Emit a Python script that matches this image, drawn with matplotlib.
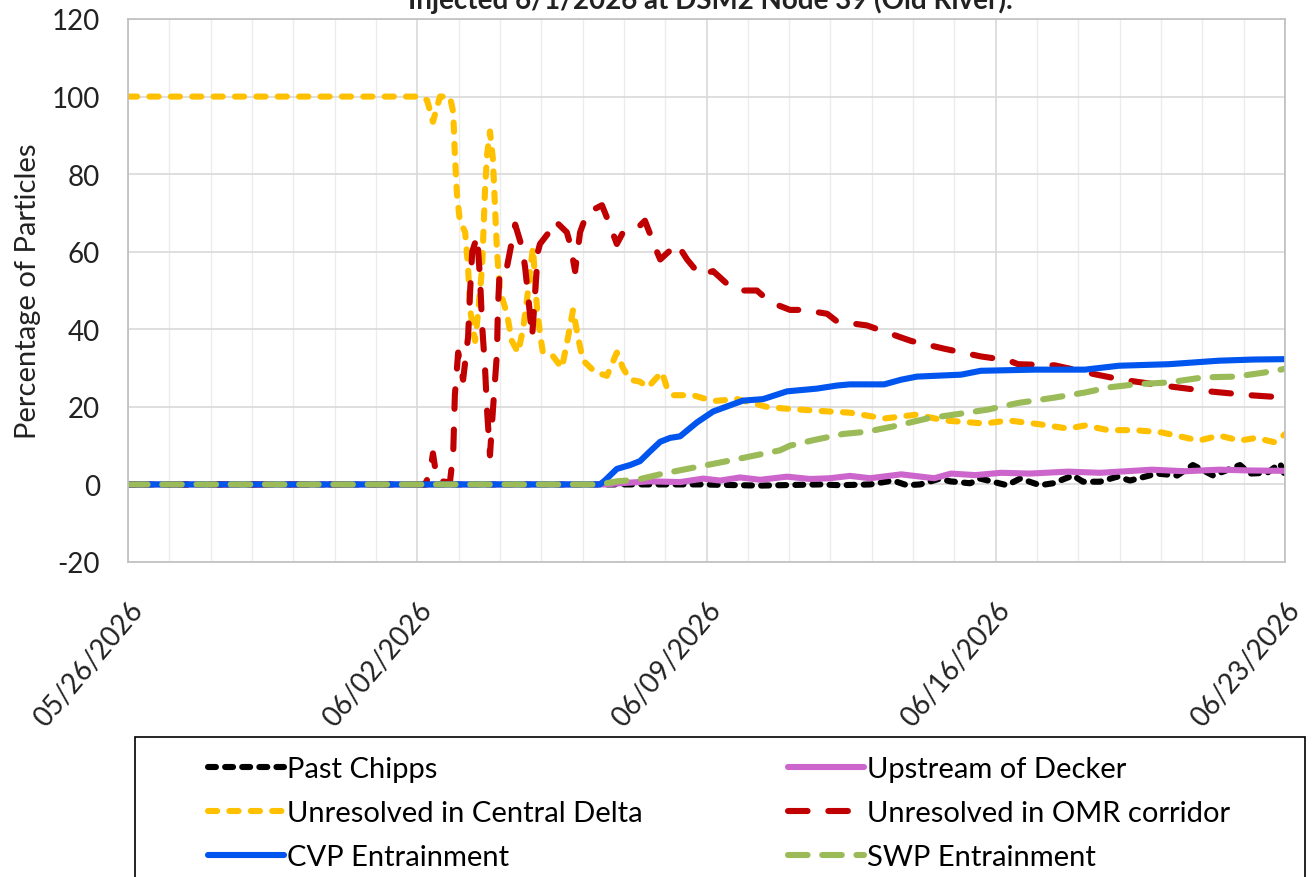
import matplotlib
matplotlib.use("Agg")
import matplotlib.pyplot as plt
import matplotlib.dates as mdates
from matplotlib.patches import Rectangle
from datetime import datetime
import numpy as np

plt.rcParams['font.family'] = ['Lato', 'DejaVu Sans']
plt.rcParams['axes.unicode_minus'] = False

START = datetime(2026, 5, 26)
END = datetime(2026, 6, 23)

# ---- data: (days since 05/26/2026, percentage) ----
chipps_days = [0.00, 11.91, 13.84, 15.30, 16.75, 17.23, 17.96, 18.51, 18.85, 19.17, 19.65, 19.89,
               20.38, 20.62, 21.27, 21.59, 22.07, 22.39, 22.87, 23.11, 23.52, 23.94, 24.25, 24.90,
               25.39, 25.77, 26.26, 26.91, 27.15, 27.57, 27.88, 28.00]
chipps_vals = [0, 0, 0, -0.3, 0, -0.2, 0, 1.0, -0.2, 0, 1.5, 0.8,
               0.3, 1.5, -0.2, 1.5, -0.2, 0.3, 2.3, 0.7, 0.7, 2.0, 1.0, 2.8,
               2.3, 5.0, 2.3, 5.0, 2.8, 3.0, 5.4, 2.3]

decker_days = [0.00, 11.54, 11.91, 12.63, 13.36, 13.92, 14.33, 14.81, 15.30, 15.95, 16.51, 16.99,
               17.47, 17.96, 18.71, 19.51, 19.92, 20.50, 21.13, 21.83, 22.75, 23.52, 24.78, 25.58,
               26.40, 27.15, 28.00]
decker_vals = [0, 0, 0.3, 0.8, 0.6, 1.5, 1.0, 1.8, 1.2, 2.0, 1.4, 1.6,
               2.2, 1.6, 2.6, 1.6, 2.8, 2.4, 3.0, 2.8, 3.3, 3.0, 3.8, 3.4,
               3.8, 3.6, 3.5]

central_days = [0.00, 7.12, 7.24, 7.38, 7.55, 7.79, 7.87, 7.91, 7.96, 8.03, 8.16, 8.23, 8.28, 8.40,
                8.47, 8.57, 8.64, 8.69, 8.76, 8.83, 8.88, 8.93, 9.00, 9.17, 9.29, 9.44, 9.56, 9.66,
                9.73, 9.80, 9.90, 9.97, 10.04, 10.29, 10.50, 10.65, 10.77, 10.89, 11.01, 11.30,
                11.59, 11.83, 11.98, 12.15, 12.39, 12.58, 12.92, 13.04, 13.19, 13.67, 14.16, 14.74,
                15.46, 15.85, 16.67, 17.47, 18.30, 19.09, 19.75, 20.74, 21.30, 22.07, 22.75, 23.16,
                23.72, 24.37, 25.02, 25.92, 26.40, 26.91, 27.30, 27.78, 28.00]
central_vals = [100, 100, 99, 93.5, 100, 100, 96, 85, 75, 68, 65, 56, 45, 37,
                44, 56, 76, 85, 91, 84, 72, 60, 50, 44, 37, 34, 40, 48,
                55, 61, 45, 39, 34, 33, 30, 38, 45, 38, 32, 29,
                28, 34, 30, 27, 26.5, 25, 29, 25, 23, 23, 21.5, 22,
                20, 19.6, 19, 18.5, 17, 18, 16.5, 15.7, 16.5, 15.5, 14.4, 15.2,
                14, 14, 13.4, 11.3, 12.6, 11.3, 12, 10.8, 13]

omr_days = [0.00, 7.07, 7.19, 7.31, 7.38, 7.48, 7.79, 7.87, 7.91, 7.99, 8.11, 8.23, 8.28, 8.33,
            8.45, 8.52, 8.57, 8.64, 8.69, 8.76, 8.83, 8.93, 8.95, 9.00, 9.17, 9.37, 9.54, 9.61,
            9.68, 9.78, 9.85, 9.92, 9.97, 10.26, 10.33, 10.62, 10.70, 10.82, 10.94, 11.11, 11.47,
            11.62, 11.83, 11.98, 12.32, 12.51, 12.80, 12.88, 13.29, 13.53, 13.84, 14.16, 14.57,
            14.81, 15.22, 15.54, 16.02, 16.34, 16.92, 17.16, 17.88, 18.68, 18.95, 19.75, 20.64,
            21.30, 21.54, 22.43, 23.40, 24.06, 25.19, 26.16, 27.15, 28.00]
omr_vals = [0, 0, 0, 3, 8, 1, 0.5, 8, 23, 34, 27, 38, 50, 60,
            64, 53, 41, 30, 19, 7.5, 19, 34, 45, 56, 56, 67, 61, 56,
            49, 38, 49, 60, 62, 66, 68, 65, 62, 55, 65, 70, 72,
            68, 62, 65, 66, 68, 60, 58, 62, 58, 54, 55, 51,
            50, 50, 47, 45, 45, 44, 42, 41, 38, 37, 35, 33,
            32, 31, 30.7, 28.4, 27, 25.3, 24, 23, 22.4]

cvp_days = [0.00, 11.42, 11.54, 11.83, 12.15, 12.39, 12.63, 12.88, 13.12, 13.36, 13.77, 14.16,
            14.57, 14.88, 15.37, 15.95, 16.67, 17.16, 17.47, 18.30, 18.71, 19.09, 20.16, 20.64,
            21.95, 23.16, 23.98, 25.19, 26.40, 27.23, 28.00]
cvp_vals = [0, 0, 1, 4, 5, 6, 8.5, 11, 12, 12.4, 16, 18.8,
            20.4, 21.6, 22, 24, 24.7, 25.5, 25.8, 25.8, 27, 27.8, 28.3, 29.3,
            29.6, 29.6, 30.6, 31, 31.9, 32.2, 32.3]

swp_days = [0.00, 11.42, 11.83, 12.32, 12.95, 13.77, 14.40, 15.05, 15.78, 16.02, 16.58, 17.30,
            17.88, 18.54, 19.34, 19.99, 20.81, 21.54, 22.43, 23.16, 23.72, 24.37, 25.19, 26.02,
            26.81, 27.47, 28.00]
swp_vals = [0, 0, 0.8, 1.2, 2.8, 4.5, 5.8, 7.2, 8.8, 10, 11.4, 13,
            13.6, 15, 17, 18, 19.3, 21, 22.4, 23.7, 25, 25.8, 26.3, 27.6,
            27.8, 28.8, 29.8]

labels = ["Past Chipps", "Upstream of Decker", "Unresolved in Central Delta",
          "Unresolved in OMR corridor", "CVP Entrainment", "SWP Entrainment"]
title_text = "Injected 6/1/2026 at DSM2 Node 39 (Old River)."
y_ticks = [-20, 0, 20, 40, 60, 80, 100, 120]

W, H = 1314, 878
fig = plt.figure(figsize=(W / 100, H / 100), dpi=100)
ax = fig.add_axes([128 / W, 1 - 563 / H, (1285 - 128) / W, (563 - 20) / H])

base = mdates.date2num(START)
LW = 4.4

series = [
    (chipps_days, chipps_vals, dict(color="black", dashes=(1.3, 1.5))),
    (decker_days, decker_vals, dict(color="#CC66CC", linestyle="-")),
    (central_days, central_vals, dict(color="#FFC000", dashes=(1.5, 2.0))),
    (omr_days, omr_vals, dict(color="#C00000", dashes=(3.2, 3.4))),
    (cvp_days, cvp_vals, dict(color="#0055EE", linestyle="-")),
    (swp_days, swp_vals, dict(color="#9BBB59", dashes=(3.2, 2.4))),
]
handles = []
for (d, v, st), lab in zip(series, labels):
    ln, = ax.plot(base + np.asarray(d), v, lw=LW, dash_capstyle="round",
                  solid_capstyle="round", solid_joinstyle="round", label=lab, **st)
    handles.append(ln)

ax.set_xlim(mdates.date2num(START), mdates.date2num(END))
ax.set_ylim(-20, 120)
ax.set_yticks(y_ticks)
ax.xaxis.set_major_locator(mdates.DayLocator(bymonthday=[26, 2, 9, 16, 23]))
ax.xaxis.set_major_formatter(mdates.DateFormatter("%m/%d/%Y"))
ax.xaxis.set_minor_locator(mdates.DayLocator())
ax.grid(True, which="major", color="#D9D9D9", lw=1.2)
ax.grid(True, which="minor", axis="x", color="#ECECEC", lw=1.0)
ax.set_axisbelow(True)
for s in ax.spines.values():
    s.set_color("#BFBFBF")
    s.set_linewidth(1.2)
ax.tick_params(which="both", length=0)
ax.tick_params(axis="y", labelsize=20, pad=20, colors="#222222")
ax.tick_params(axis="x", labelsize=20, pad=25, colors="#222222")
for t in ax.get_xticklabels():
    t.set_rotation(50)
    t.set_ha("right")
    t.set_va("top")
    t.set_rotation_mode("anchor")
ax.set_ylabel("Percentage of Particles", fontsize=21, color="#222222")
ax.yaxis.set_label_coords(-0.075, 0.5)

fig.text(710 / W, 1 - 9 / H, title_text, ha="center", va="baseline",
         fontsize=20, fontweight="bold", color="#222222")

# legend box (extends past the bottom edge as in the reference)
fig.patches.append(Rectangle((135 / W, 1 - 905 / H), (1305 - 135) / W, (905 - 738) / H,
                             transform=fig.transFigure, fill=False, edgecolor="black", lw=1.2))
order = [0, 2, 4, 1, 3, 5]
fig.legend([handles[i] for i in order], [labels[i] for i in order], ncol=2,
           loc="upper left", bbox_to_anchor=(208 / W, 1 - 757 / H),
           frameon=False, fontsize=21, handlelength=2.6, handletextpad=0.1,
           columnspacing=5.0, labelspacing=0.62, borderpad=0, borderaxespad=0)

fig.savefig("out.png", dpi=100)
